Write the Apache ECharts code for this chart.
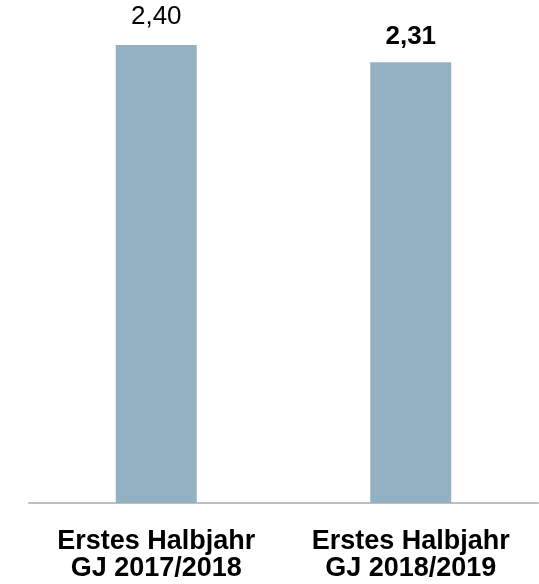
<!DOCTYPE html>
<html>
<head>
<meta charset="utf-8">
<script src="https://cdn.jsdelivr.net/npm/echarts@6/dist/echarts.min.js"></script>
<style>html,body{margin:0;padding:0;background:#fff;}#c{width:539px;height:584px;}</style>
</head>
<body>
<div id="c"></div>
<script>
const categories = ['Erstes Halbjahr\nGJ 2017/2018', 'Erstes Halbjahr\nGJ 2018/2019'];
const values = [2.40, 2.31];
const labelTexts = ['2,40', '2,31'];
const labelBold = [false, true];

const chart = echarts.init(document.getElementById('c'), null, {renderer: 'canvas'});
chart.setOption({
  animation: false,
  grid: {left: 29, right: 1, top: 26, bottom: 81, containLabel: false},
  xAxis: {
    type: 'category',
    data: categories,
    axisLine: {show: true, lineStyle: {color: '#bfbfbf', width: 2}},
    axisTick: {show: false},
    axisLabel: {
      color: '#000', fontFamily: 'Liberation Sans, Arial', fontWeight: 'bold',
      fontSize: 27, lineHeight: 27, margin: 25, interval: 0
    }
  },
  yAxis: {type: 'value', min: 0, max: 2.5, show: false, splitLine: {show: false}},
  series: [{
    type: 'bar',
    barWidth: 81,
    itemStyle: {color: '#93b1c3'},
    data: values.map((v, i) => ({
      value: v,
      label: {
        show: true, position: 'top',
        formatter: labelTexts[i],
        fontWeight: labelBold[i] ? 'bold' : 'normal',
        distance: labelBold[i] ? 12 : 15
      }
    })),
    label: {color: '#000', fontFamily: 'Liberation Sans, Arial', fontSize: 26}
  }]
});
</script>
</body>
</html>
